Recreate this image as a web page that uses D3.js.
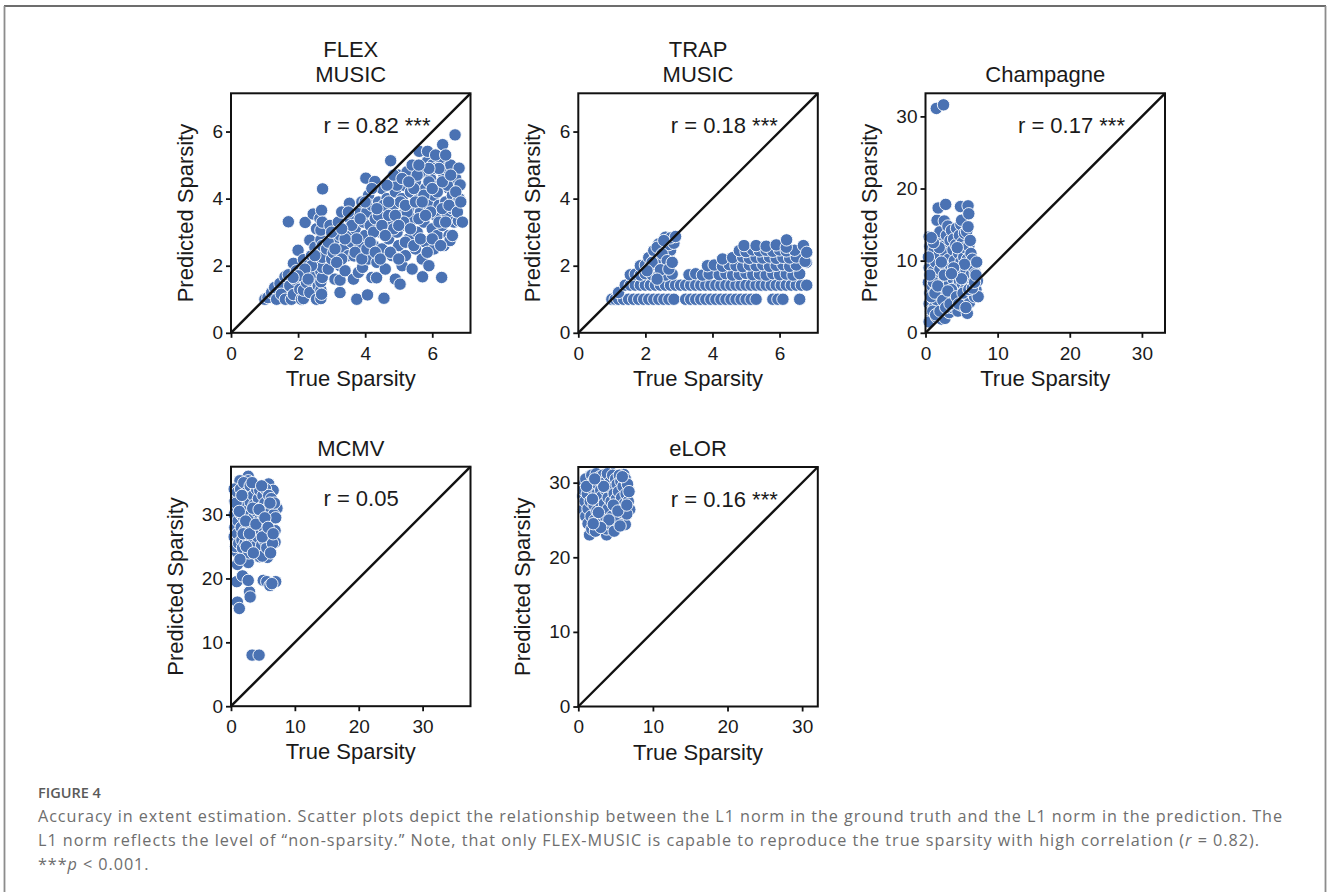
<!DOCTYPE html>
<html>
<head>
<meta charset="utf-8">
<script src="https://cdn.jsdelivr.net/npm/d3@7"></script>
<style>
  html, body { margin: 0; padding: 0; background: #fff; }
  svg { display: block; }
</style>
</head>
<body>
<svg id="chart" width="1328" height="892"></svg>
<script>
// ---------------- DATA ----------------
const panelTitles = [["FLEX", "MUSIC"], ["TRAP", "MUSIC"], ["Champagne"], ["MCMV"], ["eLOR"]];
const rLabels = ["r = 0.82 ***", "r = 0.18 ***", "r = 0.17 ***", "r = 0.05", "r = 0.16 ***"];
const axisMax = [7.14, 7.14, 33.2, 37.5, 32.1];
const ticksSmall = [0, 2, 4, 6];
const ticksLarge = [0, 10, 20, 30];
const xLabel = "True Sparsity";
const yLabel = "Predicted Sparsity";

const flexPoints = [
  [1.01,1.0],[1.10,1.05],[1.21,1.2],[1.36,1.0],[1.30,1.35],[1.46,1.47],[1.50,1.15],[1.61,1.67],[1.62,1.0],[1.71,1.73],
  [1.71,3.31],[1.75,1.4],[1.80,1.0],[1.86,1.14],[1.86,2.07],[1.90,1.6],[1.95,1.85],[2.00,2.46],[2.05,1.3],[2.10,1.0],
  [2.16,1.02],[2.16,1.27],[2.16,1.74],[2.16,2.18],[2.21,3.29],[2.25,1.5],[2.30,2.0],[2.35,2.76],[2.35,1.2],[2.40,2.3],
  [2.45,3.54],[2.45,1.7],[2.50,2.55],[2.55,1.0],[2.55,3.1],[2.60,1.4],[2.65,3.41],[2.68,1.02],[2.68,1.27],[2.68,1.52],
  [2.68,1.82],[2.68,2.12],[2.68,2.41],[2.68,2.77],[2.68,3.06],[2.70,3.65],[2.73,4.29],[2.70,1.15],[2.72,1.65],[2.72,1.95],
  [2.72,2.25],[2.72,2.6],[2.72,3.3],
  [2.85,2.5],[2.9,1.9],[2.95,3.2],[3.0,2.2],[3.05,2.39],[3.1,2.8],[3.1,1.6],[3.2,3.3],[3.25,1.2],[3.25,1.57],
  [3.25,2.91],[3.25,2.0],[3.3,3.6],[3.35,2.5],[3.4,1.85],[3.45,3.0],[3.5,2.3],[3.53,3.86],[3.55,3.4],[3.6,2.7],
  [3.65,1.6],[3.67,2.29],[3.7,3.1],[3.75,1.0],[3.8,3.6],[3.8,1.8],[3.85,2.6],[3.9,3.9],[3.92,1.95],[3.95,3.3],
  [4.0,2.9],[4.02,4.61],[4.05,3.6],[4.07,1.13],[4.1,2.2],[4.1,4.1],[4.15,3.2],
  [4.2,3.8],[4.2,1.65],[4.25,2.6],[4.29,4.51],[4.3,3.4],[4.34,1.64],[4.35,2.1],[4.4,3.9],[4.45,3.0],[4.5,4.3],
  [4.5,2.5],[4.56,1.03],[4.6,3.6],[4.6,1.9],[4.65,4.0],[4.7,2.8],[4.75,3.3],[4.76,5.13],[4.8,4.5],[4.8,2.3],
  [4.85,3.8],[4.9,1.6],[4.9,4.2],[4.95,3.0],[5.0,4.7],[5.0,2.6],[5.04,1.45],[5.05,3.5],[5.1,4.0],[5.1,2.0],
  [5.15,4.4],[5.2,3.2],[5.2,2.3],[5.25,4.8],[5.3,3.7],[5.3,2.8],[5.35,4.2],[5.4,5.0],[5.4,1.9],[5.45,3.4],
  [5.5,4.5],[5.5,2.5],[5.55,3.0],[5.6,4.0],[5.61,5.41],[5.65,3.6],[5.7,4.8],[5.71,1.67],[5.7,2.2],[5.75,3.3],
  [5.8,4.3],[5.8,2.7],[5.85,5.1],[5.86,5.41],[5.9,3.8],[5.9,2.0],[5.95,4.6],[6.0,3.1],[6.0,5.0],[6.05,4.1],
  [6.05,2.5],[6.1,3.5],[6.1,4.9],[6.15,2.9],[6.2,4.4],[6.2,3.8],[6.25,5.2],[6.28,1.65],[6.3,3.2],[6.31,5.61],
  [6.35,4.7],[6.35,2.6],[6.4,3.9],[6.43,4.91],[6.45,3.5],[6.5,4.3],[6.5,2.9],[6.53,2.75],[6.55,5.0],[6.6,3.7],
  [6.6,4.1],[6.65,3.3],[6.68,5.9],[6.7,4.6],[6.75,3.9],[6.78,3.34],[6.8,4.91],[6.83,4.41],[6.8,4.0],
  [4.4,3.5],[4.55,3.8],[4.7,3.5],[4.95,4.4],[5.05,3.9],[5.25,3.6],[5.45,4.3],[5.6,3.4],[5.75,4.1],[5.95,3.6],
  [6.15,4.2],[6.3,3.7],[6.45,4.4],[6.2,4.9],[5.9,4.9],[5.55,4.7],[5.15,3.3],[4.85,3.1],[4.25,3.0],[3.75,2.8],
  [3.3,2.2],[3.4,2.8],[3.6,3.2],[3.7,2.4],[3.85,3.4],[3.9,2.2],[4.0,3.9],[4.05,2.5],[4.15,2.7],[4.2,4.3],
  [4.3,2.4],[4.35,3.7],[4.45,2.2],[4.5,3.2],[4.6,2.9],[4.65,4.4],[4.7,3.9],[4.75,2.4],[4.85,4.7],[4.9,3.5],
  [5.0,3.2],[5.0,2.2],[5.1,4.6],[5.2,3.8],[5.2,2.7],[5.3,4.5],[5.35,3.1],[5.45,2.6],[5.5,3.9],[5.6,5.0],
  [5.65,2.8],[5.7,3.9],[5.8,3.5],[5.85,2.4],[5.9,4.5],[6.0,4.3],[6.0,2.8],[6.1,5.3],[6.2,3.3],[6.25,2.6],
  [6.3,4.5],[6.4,3.3],[6.4,5.3],[6.5,3.8],[6.55,4.7],[6.6,2.9],[6.7,4.2],[6.75,3.6],[6.85,3.9],[6.9,3.3],
  [2.9,2.7],[3.0,3.0],[3.1,2.5],[3.15,2.1],[3.3,3.1],[3.5,3.6],[2.4,2.0],[2.2,1.9],[2.0,1.7],[1.85,1.65],
  [2.5,2.3],[2.3,1.6]
];

const trapPoints = [
  [1.0,1.0],[1.1,1.0],[1.2,1.0],[1.35,1.0],[1.5,1.0],[1.65,1.0],[1.8,1.0],[1.95,1.0],[2.1,1.0],[2.25,1.0],
  [2.4,1.0],[2.55,1.0],[2.7,1.0],[2.85,1.0],[3.2,1.0],[3.35,1.0],[3.5,1.0],[3.65,1.0],[3.8,1.0],[3.95,1.0],
  [4.1,1.0],[4.25,1.0],[4.4,1.0],[4.55,1.0],[4.7,1.0],[4.85,1.0],[5.0,1.0],[5.15,1.0],[5.3,1.0],[5.8,1.0],
  [5.95,1.0],[6.1,1.0],[6.6,1.0],
  [1.2,1.2],[1.4,1.42],[1.55,1.42],[1.7,1.42],[1.85,1.42],[2.0,1.42],[2.15,1.42],[2.3,1.42],[2.45,1.42],[2.6,1.42],
  [2.75,1.42],[2.9,1.42],[3.05,1.42],[3.2,1.42],[3.35,1.42],[3.5,1.42],[3.65,1.42],[3.8,1.42],[3.95,1.42],[4.1,1.42],
  [4.25,1.42],[4.4,1.42],[4.55,1.42],[4.7,1.42],[4.85,1.42],[5.0,1.42],[5.15,1.42],[5.3,1.42],[5.45,1.42],[5.6,1.42],
  [5.75,1.42],[5.9,1.42],[6.05,1.42],[6.2,1.42],[6.35,1.42],[6.5,1.42],[6.65,1.42],[6.81,1.42],
  [1.55,1.73],[1.7,1.75],[1.85,1.72],[2.0,1.76],[2.2,1.73],[2.4,1.74],[2.6,1.72],[2.8,1.75],[3.3,1.73],[3.5,1.76],
  [3.7,1.72],[3.9,1.75],[4.2,1.73],[4.4,1.76],[4.6,1.72],[4.8,1.74],[5.0,1.77],[5.2,1.73],[5.4,1.75],[5.6,1.72],
  [5.8,1.76],[6.0,1.73],[6.2,1.75],[6.4,1.72],[6.6,1.76],
  [1.85,2.0],[2.0,2.02],[2.15,1.98],[2.3,2.03],[2.45,2.0],[2.6,1.98],[3.85,2.0],[4.05,2.02],[4.3,1.98],[4.5,2.03],
  [4.7,2.0],[4.9,1.97],[5.1,2.02],[5.3,2.0],[5.5,2.03],[5.7,1.98],[5.9,2.01],[6.1,2.03],[6.3,1.98],[6.5,2.02],
  [6.8,2.1],
  [2.1,2.24],[2.3,2.26],[2.5,2.22],[2.7,2.25],[4.3,2.2],[4.6,2.24],[4.9,2.26],[5.1,2.22],[5.3,2.25],[5.5,2.23],
  [5.7,2.26],[5.9,2.22],[6.1,2.25],[6.3,2.23],[6.5,2.26],[6.76,2.13],
  [2.25,2.45],[2.45,2.47],[2.6,2.43],[2.75,2.46],[4.8,2.45],[5.0,2.42],[5.2,2.47],[5.4,2.44],[5.6,2.46],[5.8,2.43],
  [6.0,2.47],[6.2,2.44],[6.45,2.46],[6.71,2.6],[6.81,2.4],[4.94,2.6],
  [2.4,2.65],[2.55,2.66],[2.7,2.63],[2.85,2.67],[5.3,2.6],[5.6,2.58],[5.9,2.62],[6.2,2.55],
  [2.6,2.85],[2.75,2.83],[2.9,2.87],[6.21,2.77],
  [2.35,2.55],[2.5,2.35],[2.65,2.15],[2.2,2.1],[2.05,1.85],[2.55,2.75],[2.45,1.88],[2.7,1.9],[2.8,2.1],[2.35,1.6]
];

const champagnePoints = [
  [1.5,31.1],[2.5,31.6],
  [0.5,13.3],[0.9,10.4],[0.6,12.0],[0.5,9.0],[0.4,7.0],[0.6,5.5],[0.5,4.0],[0.7,3.0],[0.8,2.0],[0.5,1.5],
  [0.9,6.5],[1.0,8.5],[1.0,4.8],[1.2,3.5],[1.2,11.5],[1.3,13.0],[1.4,9.8],[1.5,2.2],[1.5,6.0],[1.6,15.6],
  [1.6,7.5],[1.75,17.3],[1.8,12.4],[1.8,4.2],[1.9,10.8],[2.0,8.8],[2.0,14.0],[2.1,5.5],[2.2,1.9],[2.3,7.0],
  [2.3,12.0],[2.4,3.2],[2.5,9.5],[2.6,15.5],[2.7,2.0],[2.7,6.2],[2.8,17.8],[2.8,11.0],[2.9,13.5],[3.0,4.5],
  [3.0,8.0],[3.1,14.8],[3.2,10.2],[3.3,2.8],[3.3,6.8],[3.4,12.8],[3.5,5.0],[3.5,9.2],[3.6,14.2],[3.7,3.5],
  [3.8,11.5],[3.8,7.5],[3.9,13.0],[4.0,5.8],[4.0,10.0],[4.1,8.5],[4.2,4.0],[4.2,12.2],[4.3,14.5],[4.4,6.5],
  [4.5,9.0],[4.5,3.0],[4.6,11.0],[4.7,13.5],[4.7,7.2],[4.8,5.2],[4.85,17.5],[4.9,15.0],[4.9,9.8],[5.0,15.6],
  [5.0,3.8],[5.1,12.5],[5.1,6.8],[5.2,8.2],[5.3,10.5],[5.3,4.5],[5.4,13.8],[5.5,6.0],[5.5,11.8],[5.6,8.8],
  [5.7,5.0],[5.7,14.0],[5.8,2.7],[5.8,10.2],[5.9,14.7],[5.9,17.6],[5.9,7.5],[6.0,16.5],[6.0,12.0],[6.1,4.2],
  [6.1,9.5],[6.2,6.5],[6.3,11.0],[6.3,8.0],[6.4,5.5],[6.5,10.2],[6.6,7.0],[6.7,9.0],[6.8,5.0],[6.9,8.2],
  [7.0,6.0],[7.1,9.8],[7.2,7.2],[7.3,5.0],
  [1.1,7.0],[2.2,9.8],[3.6,6.0],[4.4,11.8],[5.4,9.5],[6.2,12.8],[1.6,4.5],[2.9,5.5],[3.9,9.0],[5.0,7.5],
  [0.4,10.5],[0.6,8.0],[0.8,5.0],[1.0,3.0],[1.3,5.5],[1.4,2.5],[1.7,6.5],[2.0,3.0],[2.4,4.5],[2.6,8.0],
  [2.8,3.5],[3.1,5.8],[3.4,4.0],[3.6,8.2],[4.3,5.0],[4.6,4.0],[5.2,5.5],[5.6,3.5],[6.0,6.0],[6.5,6.2],
  [6.8,7.0],[7.0,8.0],[1.9,11.8],[1.1,12.5],[0.8,13.2]
];

const mcmvPoints = [
  [1.0,16.3],[1.3,15.3],[3.3,8.0],[4.4,8.0],[2.9,17.9],[3.0,17.1],[0.9,19.5],[1.8,20.4],[2.7,19.7],[5.05,19.7],
  [5.6,19.5],[6.1,18.9],[7.0,19.5],[6.4,19.2],[1.0,22.2],[2.7,22.5],[1.0,24.1],[5.7,23.3],[4.5,23.4],
  [2.7,36.0],[2.7,35.3],[1.4,35.3],[5.9,34.8],[6.6,33.8],[7.2,31.0],[6.9,25.7],
  [0.5,34.0],[0.6,32.0],[0.5,30.0],[0.6,28.0],[0.5,26.5],[0.7,25.0],[1.0,33.5],[1.0,31.0],[1.1,29.0],[1.0,27.0],
  [1.2,25.5],[1.5,34.0],[1.5,32.0],[1.6,30.0],[1.6,28.0],[1.7,26.0],[1.8,24.8],[2.0,35.0],[2.0,33.0],[2.1,31.2],
  [2.0,29.5],[2.2,27.5],[2.2,25.5],[2.5,33.5],[2.5,30.5],[2.6,28.5],[2.6,26.5],[2.8,24.0],[3.0,34.5],[3.0,32.0],
  [3.1,30.0],[3.2,28.0],[3.2,26.0],[3.5,33.0],[3.5,29.5],[3.6,31.5],[3.7,27.0],[3.8,25.0],[4.0,34.0],[4.0,30.5],
  [4.1,28.5],[4.2,26.5],[4.3,32.5],[4.5,33.8],[4.5,29.2],[4.6,31.0],[4.7,27.5],[4.8,25.2],[4.9,23.5],[5.0,33.0],
  [5.0,30.0],[5.1,28.0],[5.2,26.0],[5.3,31.8],[5.4,34.0],[5.5,29.0],[5.6,27.0],[5.6,24.8],[5.8,31.0],[5.9,33.0],
  [6.0,29.2],[6.0,26.5],[6.2,30.5],[6.3,32.5],[6.4,28.0],[6.5,25.5],[6.7,30.0],[6.8,31.8],[6.9,27.5],[7.0,29.5],
  [0.8,31.8],[1.3,30.5],[1.9,27.0],[2.3,29.0],[2.9,27.0],[3.4,31.0],[3.9,28.5],[4.4,30.8],[4.9,26.5],[5.3,29.5],
  [5.8,28.0],[6.1,31.8],[6.6,27.0],[1.7,33.0],[3.3,35.0],[4.8,34.5],[2.4,25.0],[3.5,24.0],[6.2,24.0],[1.4,23.0]
];

const elorPoints = [
  [3.8,23.0],[1.5,23.0],[6.3,24.4],[6.9,26.4],[1.6,30.9],[4.3,31.4],[6.1,31.1],[0.6,28.2],[0.7,26.4],
  [0.8,30.0],[0.7,29.0],[0.9,27.5],[1.0,25.5],[1.0,30.5],[1.2,28.5],[1.3,26.5],[1.3,24.5],[1.5,29.5],[1.6,27.5],
  [1.7,25.5],[1.8,23.8],[1.8,31.0],[2.0,29.0],[2.0,30.2],[2.1,27.0],[2.2,25.0],[2.3,23.5],[2.4,31.2],[2.5,28.5],
  [2.5,26.2],[2.6,29.8],[2.8,27.5],[2.8,24.5],[2.9,30.8],[3.0,29.0],[3.1,26.0],[3.2,28.2],[3.3,24.8],[3.3,31.0],
  [3.5,30.0],[3.5,27.2],[3.6,25.5],[3.7,29.0],[3.8,23.8],[3.9,31.2],[4.0,28.0],[4.0,26.5],[4.2,30.0],[4.2,24.5],
  [4.4,27.5],[4.5,29.2],[4.5,25.5],[4.6,31.0],[4.8,28.5],[4.8,23.5],[4.9,26.8],[5.0,30.5],[5.1,27.8],[5.2,29.8],
  [5.2,25.0],[5.4,28.8],[5.5,26.5],[5.5,31.0],[5.6,24.2],[5.7,30.2],[5.8,28.0],[5.9,26.0],[6.0,29.5],[6.2,27.2],
  [6.3,30.5],[6.4,28.5],[6.5,25.8],[6.6,29.8],[6.7,27.5],[6.8,28.8],
  [1.1,29.5],[1.9,27.8],[2.7,26.0],[3.4,29.5],[4.1,25.0],[4.7,27.0],[5.3,26.2],[5.9,30.8],[6.5,27.0],[2.2,30.5],
  [3.0,24.0],[2.0,24.5]
];

const captionHead = "FIGURE 4";
const captionLine1 = "Accuracy in extent estimation. Scatter plots depict the relationship between the L1 norm in the ground truth and the L1 norm in the prediction. The";
const captionLine2a = "L1 norm reflects the level of \u201cnon-sparsity.\u201d Note, that only FLEX-MUSIC is capable to reproduce the true sparsity with high correlation (";
const captionLine2b = "r";
const captionLine2c = " = 0.82).";
const captionLine3a = "***";
const captionLine3b = "p";
const captionLine3c = " < 0.001.";

// ---------------- LAYOUT ----------------
const svg = d3.select("#chart");
const FONT = "'Liberation Sans', Arial, Helvetica, sans-serif";
const SIZE = 239.5;
const layout = [
  { x0: 231,   y0: 93.3 },
  { x0: 578.3, y0: 93.3 },
  { x0: 925.5, y0: 93.3 },
  { x0: 231,   y0: 466.7 },
  { x0: 578.3, y0: 467 }
];
const datasets = [flexPoints, trapPoints, champagnePoints, mcmvPoints, elorPoints];
const tickSets = [ticksSmall, ticksSmall, ticksLarge, ticksLarge, ticksLarge];

// page frame
svg.append("rect").attr("width", 1328).attr("height", 892).attr("fill", "#fff");
svg.append("line").attr("x1", 4).attr("x2", 1326).attr("y1", 6).attr("y2", 6)
  .attr("stroke", "#3c3c3c").attr("stroke-width", 1.5);
svg.append("line").attr("x1", 4.5).attr("x2", 4.5).attr("y1", 6).attr("y2", 892)
  .attr("stroke", "#8c8c8c").attr("stroke-width", 1.8);
svg.append("line").attr("x1", 1325.5).attr("x2", 1325.5).attr("y1", 6).attr("y2", 892)
  .attr("stroke", "#8c8c8c").attr("stroke-width", 1.8);

datasets.forEach((pts, i) => {
  const L = layout[i];
  const max = axisMax[i];
  const g = svg.append("g").attr("transform", `translate(${L.x0},${L.y0})`);
  const x = d3.scaleLinear().domain([0, max]).range([0, SIZE]);
  const y = d3.scaleLinear().domain([0, max]).range([SIZE, 0]);

  // points
  g.append("g").selectAll("circle").data(pts).join("circle")
    .attr("cx", d => x(d[0])).attr("cy", d => y(d[1])).attr("r", 6.2)
    .attr("fill", "#4a72b3").attr("stroke", "#ffffff").attr("stroke-width", 0.9);

  // identity line
  g.append("line")
    .attr("x1", x(0)).attr("y1", y(0)).attr("x2", x(max)).attr("y2", y(max))
    .attr("stroke", "#111").attr("stroke-width", 2.4);

  // axes
  const xa = g.append("g").attr("transform", `translate(0,${SIZE})`)
    .call(d3.axisBottom(x).tickValues(tickSets[i]).tickSize(5).tickPadding(8.5).tickFormat(d3.format("d")));
  const ya = g.append("g")
    .call(d3.axisLeft(y).tickValues(tickSets[i]).tickSize(5).tickPadding(3).tickFormat(d3.format("d")));
  [xa, ya].forEach(a => {
    a.select(".domain").remove();
    a.selectAll(".tick line").attr("stroke", "#111").attr("stroke-width", 1.8);
    a.selectAll(".tick text").attr("font-family", FONT).attr("font-size", 19).attr("fill", "#1a1a1a");
  });

  // frame
  g.append("rect").attr("x", 0).attr("y", 0).attr("width", SIZE).attr("height", SIZE)
    .attr("fill", "none").attr("stroke", "#111").attr("stroke-width", 2);

  // labels
  g.append("text").attr("x", SIZE / 2).attr("y", SIZE + 53)
    .attr("text-anchor", "middle").attr("font-family", FONT).attr("font-size", 22).attr("fill", "#1a1a1a")
    .text(xLabel);
  let tw = 0;
  ya.selectAll(".tick text").each(function () { tw = Math.max(tw, this.getBBox().width); });
  g.append("text").attr("transform", `translate(${-(tw + 27)},${SIZE / 2}) rotate(-90)`)
    .attr("text-anchor", "middle").attr("font-family", FONT).attr("font-size", 22).attr("fill", "#1a1a1a")
    .text(yLabel);

  // title
  const lines = panelTitles[i];
  lines.forEach((t, k) => {
    g.append("text").attr("x", SIZE / 2).attr("y", -11 - (lines.length - 1 - k) * 25)
      .attr("text-anchor", "middle").attr("font-family", FONT).attr("font-size", 22).attr("fill", "#1a1a1a")
      .text(t);
  });

  // correlation label
  g.append("text").attr("x", SIZE * 0.386).attr("y", SIZE * 0.166)
    .attr("font-family", FONT).attr("font-size", 22).attr("fill", "#1a1a1a")
    .text(rLabels[i]);
});

// ---------------- CAPTION ----------------
const CAPFONT = "'Open Sans', 'Noto Sans', sans-serif";
const capColor = "#6e6e6e";
const CAPSIZE = 16.2;
svg.append("text").attr("x", 38).attr("y", 798)
  .attr("font-family", CAPFONT).attr("font-size", 14.5).attr("font-weight", 600).attr("fill", "#5a5a5a")
  .text(captionHead);

function fit(sel, target) {
  const node = sel.node();
  const w = node.getComputedTextLength();
  const n = node.textContent.length;
  sel.attr("letter-spacing", ((target - w) / (n - 1)).toFixed(3));
}

const l1 = svg.append("text").attr("x", 38).attr("y", 822)
  .attr("font-family", CAPFONT).attr("font-size", CAPSIZE).attr("fill", capColor).text(captionLine1);
fit(l1, 1244);

const l2 = svg.append("text").attr("x", 38).attr("y", 846)
  .attr("font-family", CAPFONT).attr("font-size", CAPSIZE).attr("fill", capColor);
l2.append("tspan").text(captionLine2a);
l2.append("tspan").attr("font-style", "italic").text(captionLine2b);
l2.append("tspan").text(captionLine2c);
fit(l2, 1221);

const l3 = svg.append("text").attr("x", 38).attr("y", 870)
  .attr("font-family", CAPFONT).attr("font-size", CAPSIZE).attr("fill", capColor)
  .attr("letter-spacing", l1.attr("letter-spacing"));
l3.append("tspan").text(captionLine3a);
l3.append("tspan").attr("font-style", "italic").text(captionLine3b);
l3.append("tspan").text(captionLine3c);
</script>
</body>
</html>
